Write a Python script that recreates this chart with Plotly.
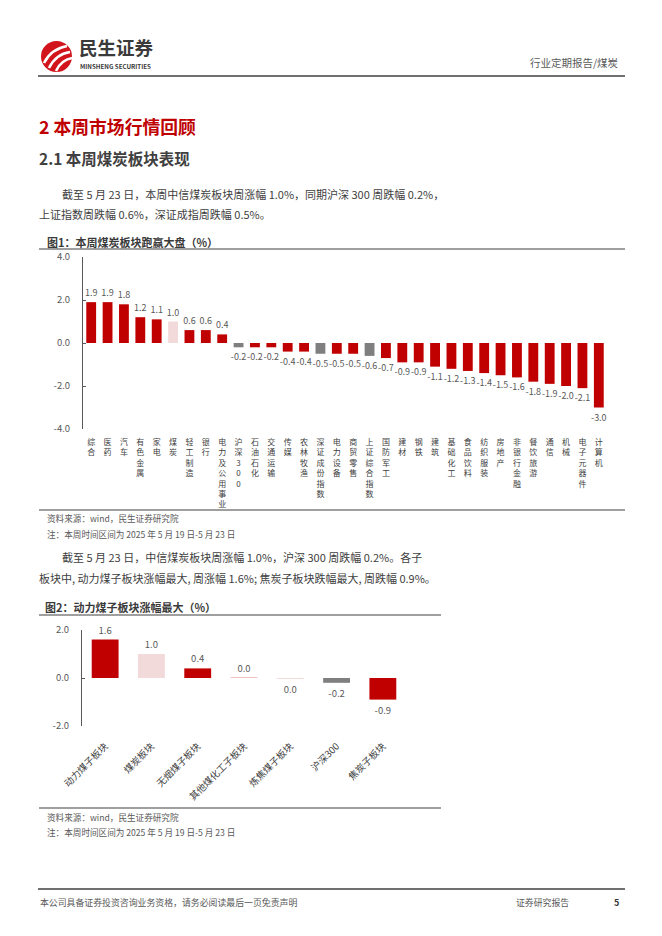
import plotly.graph_objects as go

# ---------------- data ----------------
cats1 = ["综合", "医药", "汽车", "有色金属", "家电", "煤炭", "轻工制造", "银行", "电力及公用事业",
         "沪深300", "石油石化", "交通运输", "传媒", "农林牧渔", "深证成份指数", "电力设备", "商贸零售",
         "上证综合指数", "国防军工", "建材", "钢铁", "建筑", "基础化工", "食品饮料", "纺织服装", "房地产",
         "非银行金融", "餐饮旅游", "通信", "机械", "电子元器件", "计算机"]
vals1 = [1.9, 1.9, 1.8, 1.2, 1.1, 1.0, 0.6, 0.6, 0.4,
         -0.2, -0.2, -0.2, -0.4, -0.4, -0.5, -0.5, -0.5,
         -0.6, -0.7, -0.9, -0.9, -1.1, -1.2, -1.3, -1.4, -1.5,
         -1.6, -1.8, -1.9, -2.0, -2.1, -3.0]

cats2 = ["动力煤子板块", "煤炭板块", "无烟煤子板块", "其他煤化工子板块", "炼焦煤子板块", "沪深300", "焦炭子板块"]
vals2 = [1.6, 1.0, 0.4, 0.01, -0.04, -0.2, -0.9]

yticks1 = [-4, -2, 0, 2, 4]
yticks2 = [-2, 0, 2]

# ---------------- style ----------------
RED = "#C00000"
PINK = "#F2D9DA"
GREY = "#7F7F7F"
AX = "#595959"
TXT = "#404040"
FONT = "Noto Sans CJK SC"

index_names = {"沪深300", "深证成份指数", "上证综合指数"}
pink_names1 = {"煤炭"}
colors1 = [GREY if c in index_names else PINK if c in pink_names1 else RED for c in cats1]
pink_names2 = {"煤炭板块", "炼焦煤子板块"}
colors2 = [GREY if c in index_names else PINK if c in pink_names2 else RED for c in cats2]

W, H = 662, 936
def px(x): return x / W
def py(y): return 1 - y / H

def fmt(v):
    s = f"{v:.1f}"
    return "0.0" if s == "-0.0" else s

fig = go.Figure()

fig.add_trace(go.Bar(
    x=cats1, y=vals1, marker=dict(color=colors1, line=dict(width=0)), width=0.6,
    text=[fmt(v) for v in vals1], textposition="outside", cliponaxis=False, constraintext="none",
    textfont=dict(size=9, color=AX, family=FONT), xaxis="x", yaxis="y",
    hoverinfo="skip", showlegend=False))

fig.add_trace(go.Bar(
    x=cats2, y=vals2, marker=dict(color=colors2, line=dict(width=0)), width=0.58,
    text=[fmt(v) for v in vals2], textposition="outside", cliponaxis=False, constraintext="none",
    textfont=dict(size=9.5, color=AX, family=FONT), xaxis="x2", yaxis="y2",
    hoverinfo="skip", showlegend=False))

# chart geometry
c1x = [px(83), px(607)]
c1y = [py(429), py(257)]
c2x = [px(82), px(406)]
c2y = [py(726), py(630)]

layout = dict(
    template="none",
    width=W, height=H, margin=dict(l=0, r=0, t=0, b=0, pad=0, autoexpand=False),
    paper_bgcolor="white", plot_bgcolor="white",
    font=dict(family=FONT, color=TXT), bargap=0.4, hovermode=False,
    xaxis=dict(domain=c1x, anchor="y", type="category", range=[-0.5, len(cats1) - 0.5],
               tickmode="array", tickvals=cats1,
               ticktext=["<br>".join(list(c)) for c in cats1],
               tickfont=dict(size=8, color=TXT), tickangle=0, showline=False, ticks="",
               showgrid=False, zeroline=False, fixedrange=True, ticklabelstandoff=7,
               automargin=False),
    yaxis=dict(domain=c1y, anchor="x", range=[min(yticks1), max(yticks1)], tickvals=yticks1,
               ticktext=[f"{t:.1f}" for t in yticks1], tickfont=dict(size=9.5, color=AX),
               showline=True, linecolor=AX, linewidth=1, ticks="inside", ticklen=3, tickcolor=AX,
               showgrid=False, zeroline=False, ticklabelstandoff=10, automargin=False),
    xaxis3=dict(overlaying="x", anchor="free", position=(c1y[0] + c1y[1]) / 2,
                range=[-0.5, len(cats1) - 0.5], tick0=-0.5, dtick=1, showticklabels=False,
                showline=True, linecolor=AX, linewidth=1, ticks="inside", ticklen=4, tickcolor=AX,
                showgrid=False, zeroline=False, automargin=False),
    xaxis2=dict(domain=c2x, anchor="y2", type="category", range=[-0.5, len(cats2) - 0.5],
                tickfont=dict(size=9.5, color=TXT), tickangle=-45, showline=False, ticks="",
                showgrid=False, zeroline=False, ticklabelstandoff=12, automargin=False),
    yaxis2=dict(domain=c2y, anchor="x2", range=[min(yticks2), max(yticks2)], tickvals=yticks2,
                ticktext=[f"{t:.1f}" for t in yticks2], tickfont=dict(size=9.5, color=AX),
                showline=True, linecolor=AX, linewidth=1, ticks="inside", ticklen=3, tickcolor=AX,
                showgrid=False, zeroline=False, ticklabelstandoff=10, automargin=False),
    xaxis4=dict(overlaying="x2", anchor="free", position=(c2y[0] + c2y[1]) / 2,
                range=[-0.5, len(cats2) - 0.5], tick0=-0.5, dtick=1, showticklabels=False,
                showline=True, linecolor=AX, linewidth=1, ticks="inside", ticklen=4, tickcolor=AX,
                showgrid=False, zeroline=False, automargin=False),
)
fig.update_layout(**layout)

anns = []
def txt(x, y, s, size, color=TXT, anchor="left", bold=False):
    anns.append(dict(x=px(x), y=py(y), xref="paper", yref="paper", text=f"<b>{s}</b>" if bold else s,
                     showarrow=False, xanchor=anchor, yanchor="middle",
                     font=dict(size=size, color=color, family=FONT)))

BODY = 11
SRC = 8.6

# header
txt(77, 47, "民生证券", 18.5, "#3A3A3A", bold=True)
txt(78, 66.5, "MINSHENG SECURITIES", 6.2, "#3A3A3A", bold=True)
txt(621, 63, "行业定期报告/煤炭", 10.5, "#595959", anchor="right")

# headings
txt(37, 126, "2 本周市场行情回顾", 17.8, RED, bold=True)
txt(37, 158, "2.1 本周煤炭板块表现", 15.5, TXT, bold=True)

# paragraph 1
txt(60, 194, "截至 5 月 23 日，本周中信煤炭板块周涨幅 1.0%，同期沪深 300 周跌幅 0.2%，", BODY, TXT)
txt(37, 214, "上证指数周跌幅 0.6%，深证成指周跌幅 0.5%。", BODY, TXT)

# chart 1 titles / sources
txt(45, 242, "图1：本周煤炭板块跑赢大盘（%）", 11, "#3A3A3A", bold=True)
txt(45, 518, "资料来源：wind，民生证券研究院", SRC, "#595959")
txt(45, 534, "注：本周时间区间为 2025 年 5 月 19 日-5 月 23 日", SRC, "#595959")

# paragraph 2
txt(60, 557, "截至 5 月 23 日，中信煤炭板块周涨幅 1.0%，沪深 300 周跌幅 0.2%。各子", BODY, TXT)
txt(37, 578, "板块中, 动力煤子板块涨幅最大, 周涨幅 1.6%; 焦炭子板块跌幅最大, 周跌幅 0.9%。", BODY, TXT)

# chart 2 titles / sources
txt(43, 607, "图2：动力煤子板块涨幅最大（%）", 11, "#3A3A3A", bold=True)
txt(45, 817, "资料来源：wind，民生证券研究院", SRC, "#595959")
txt(45, 832, "注：本周时间区间为 2025 年 5 月 19 日-5 月 23 日", SRC, "#595959")

# footer
txt(38, 902, "本公司具备证券投资咨询业务资格，请务必阅读最后一页免责声明", 8.9, "#595959")
txt(514, 902, "证券研究报告", 8.9, "#595959")
txt(612, 902, "5", 9, "#3A3A3A", bold=True)

fig.update_layout(annotations=anns)

shapes = []
def hline(y, x0, x1, color="#404040", w=1.2):
    shapes.append(dict(type="line", xref="paper", yref="paper", x0=px(x0), x1=px(x1),
                       y0=py(y), y1=py(y), line=dict(color=color, width=w)))

hline(76, 38, 625, w=1.3)
hline(249, 39, 625)
hline(510, 39, 625)
hline(615, 39, 441)
hline(808, 39, 441)
hline(889, 38, 625, w=1.3)

# logo circle
shapes.append(dict(type="circle", xref="paper", yref="paper", x0=px(41), x1=px(72),
                   y0=py(72), y1=py(41), fillcolor="#D2141C", line=dict(width=0)))

def pth(cmds):
    out = []
    for c in cmds:
        if isinstance(c, str):
            out.append(c)
        else:
            out.append(f"{px(c[0]):.5f},{py(c[1]):.5f}")
    return " ".join(out)

for (a, b, c) in [((44, 63), (51, 49), (67, 46)), ((49, 68), (56, 54), (70, 52)), ((56, 71), (61, 60), (72, 58))]:
    shapes.append(dict(type="path", xref="paper", yref="paper",
                       path=pth(["M", a, "Q", b, c]), line=dict(color="white", width=2.6)))

fig.update_layout(shapes=shapes)

fig.write_html("out.html", config={"displayModeBar": False, "staticPlot": True},
               post_script="document.body.style.margin='0px';document.body.style.overflow='hidden';")
